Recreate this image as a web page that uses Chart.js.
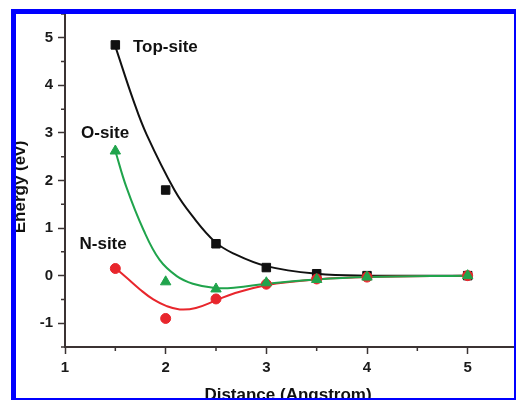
<!DOCTYPE html>
<html>
<head>
<meta charset="utf-8">
<script src="https://cdn.jsdelivr.net/npm/chart.js@4"></script>
<style>
  html, body { margin: 0; padding: 0; background: #fff; }
  #wrap { position: relative; width: 516px; height: 400px; overflow: hidden; background: #fff; }
  #c { position: absolute; left: 0; top: 0; }
  #frame {
    position: absolute; left: 11px; top: 9px; width: 498px; height: 384px;
    border-style: solid; border-color: #0000ff;
    border-width: 5px 2px 2px 5px;
    pointer-events: none;
  }
</style>
</head>
<body>
<div id="wrap">
  <canvas id="c" width="540" height="420"></canvas>
  <div id="frame"></div>
</div>
<script>
// distances (Angstrom)
var distance = [1.5, 2, 2.5, 3, 3.5, 4, 5];

// computed energies (eV)
var topSite = [4.85, 1.8, 0.67, 0.17, 0.04, 0.0, 0.0];
var oSite   = [2.62, -0.13, -0.28, -0.15, -0.08, -0.03, 0.0];
var nSite   = [0.15, -0.9, -0.49, -0.18, -0.07, -0.03, 0.0];

// fitted curves
var topFitX = [1.5, 1.68, 1.81, 2.09, 2.27, 2.49, 2.67, 3.0, 3.5, 4, 5];
var topFitY = [4.82, 3.68, 2.97, 1.79, 1.24, 0.71, 0.47, 0.2, 0.04, 0.0, 0.0];
var oFitX = [1.5, 1.61, 1.78, 1.94, 2.11, 2.27, 2.49, 2.7, 3.0, 3.5, 4, 5];
var oFitY = [2.62, 1.86, 0.96, 0.33, -0.01, -0.17, -0.26, -0.25, -0.17, -0.08, -0.03, 0.0];
var nFitX = [1.5, 1.61, 1.745, 1.877, 2.01, 2.14, 2.3, 2.5, 2.67, 3.0, 3.5, 4, 5];
var nFitY = [0.16, -0.04, -0.29, -0.5, -0.64, -0.71, -0.68, -0.52, -0.38, -0.2, -0.08, -0.03, 0.0];

var xTicks = [1, 2, 3, 4, 5];
var yTicks = [-1, 0, 1, 2, 3, 4, 5];

var BLACK = "#111111", GREEN = "#20a44c", RED = "#e8262c", AXIS = "#3b3333";
var FONT = "'Liberation Sans', Arial, sans-serif";

function pts(xs, ys) {
  return xs.map(function (x, i) { return { x: x, y: ys[i] }; });
}

function fit(xs, ys, color, order) {
  return {
    data: pts(xs, ys), showLine: true, borderColor: color, borderWidth: 2,
    pointRadius: 0, tension: 0.4, fill: false, order: order
  };
}

function marks(ys, color, style, r, order) {
  return {
    data: pts(distance, ys), showLine: false, pointStyle: style, pointRadius: r,
    backgroundColor: color, borderColor: color, borderWidth: 1, order: order
  };
}

// minor ticks, series labels and axis titles
var decor = {
  id: "decor",
  afterDraw: function (chart) {
    var ctx = chart.ctx, xs = chart.scales.x, ys = chart.scales.y;
    ctx.save();
    ctx.strokeStyle = AXIS;
    ctx.lineWidth = 1.5;
    ctx.beginPath();
    for (var v = 1.5; v < 5.6; v += 1) {
      var px = xs.getPixelForValue(v);
      ctx.moveTo(px, ys.bottom); ctx.lineTo(px, ys.bottom + 4);
    }
    for (var w = -1.5; w < 5.6; w += 1) {
      var py = ys.getPixelForValue(w);
      ctx.moveTo(xs.left, py); ctx.lineTo(xs.left - 4, py);
    }
    ctx.stroke();

    ctx.fillStyle = "#111";
    ctx.font = "bold 17px " + FONT;
    ctx.textBaseline = "alphabetic";
    ctx.textAlign = "left";
    var labels = [["Top-site", 1.675, 4.71], ["O-site", 1.159, 2.885], ["N-site", 1.144, 0.556]];
    labels.forEach(function (l) {
      ctx.fillText(l[0], xs.getPixelForValue(l[1]), ys.getPixelForValue(l[2]));
    });

    ctx.textAlign = "center";
    ctx.fillText("Distance (Angstrom)", 288, 400);
    ctx.translate(25, 187);
    ctx.rotate(-Math.PI / 2);
    ctx.fillText("Energy (ev)", 0, 0);
    ctx.restore();
  }
};

new Chart(document.getElementById("c"), {
  type: "scatter",
  data: {
    datasets: [
      fit(topFitX, topFitY, BLACK, 6),
      fit(nFitX, nFitY, RED, 5),
      fit(oFitX, oFitY, GREEN, 4),
      marks(topSite, BLACK, "rect", 6, 3),
      marks(nSite, RED, "circle", 5, 2),
      marks(oSite, GREEN, "triangle", 6, 1)
    ]
  },
  options: {
    responsive: false,
    animation: false,
    devicePixelRatio: 1,
    layout: { padding: { left: 0, top: 11, right: 22, bottom: 0 } },
    plugins: { legend: { display: false }, tooltip: { enabled: false } },
    scales: {
      x: {
        type: "linear", min: 1, max: 5.5,
        afterFit: function (s) { s.height = 73; },
        afterBuildTicks: function (s) {
          var t = [];
          for (var v = 1; v <= 5.5; v += 0.5) t.push({ value: v });
          s.ticks = t;
        },
        border: { display: true, color: AXIS, width: 2 },
        grid: {
          drawOnChartArea: false, drawTicks: true, tickLength: 7, tickWidth: 1.5,
          tickColor: function (c) { return xTicks.indexOf(c.tick.value) >= 0 ? AXIS : "rgba(0,0,0,0)"; }
        },
        ticks: {
          padding: 5, color: "#1a1a1a", maxRotation: 0, autoSkip: false,
          font: { family: FONT, size: 15, weight: "bold" },
          callback: function (v) { return xTicks.indexOf(v) >= 0 ? String(v) : ""; }
        }
      },
      y: {
        type: "linear", min: -1.5, max: 5.5,
        afterFit: function (s) { s.width = 65; },
        afterBuildTicks: function (s) {
          var t = [];
          for (var v = -1.5; v <= 5.5; v += 0.5) t.push({ value: v });
          s.ticks = t;
        },
        border: { display: true, color: AXIS, width: 2 },
        grid: {
          drawOnChartArea: false, drawTicks: true, tickLength: 7, tickWidth: 1.5,
          tickColor: function (c) { return yTicks.indexOf(c.tick.value) >= 0 ? AXIS : "rgba(0,0,0,0)"; }
        },
        ticks: {
          padding: 5, color: "#1a1a1a", autoSkip: false,
          font: { family: FONT, size: 15, weight: "bold" },
          callback: function (v) { return yTicks.indexOf(v) >= 0 ? String(v) : ""; }
        }
      }
    }
  },
  plugins: [decor]
});
</script>
</body>
</html>
